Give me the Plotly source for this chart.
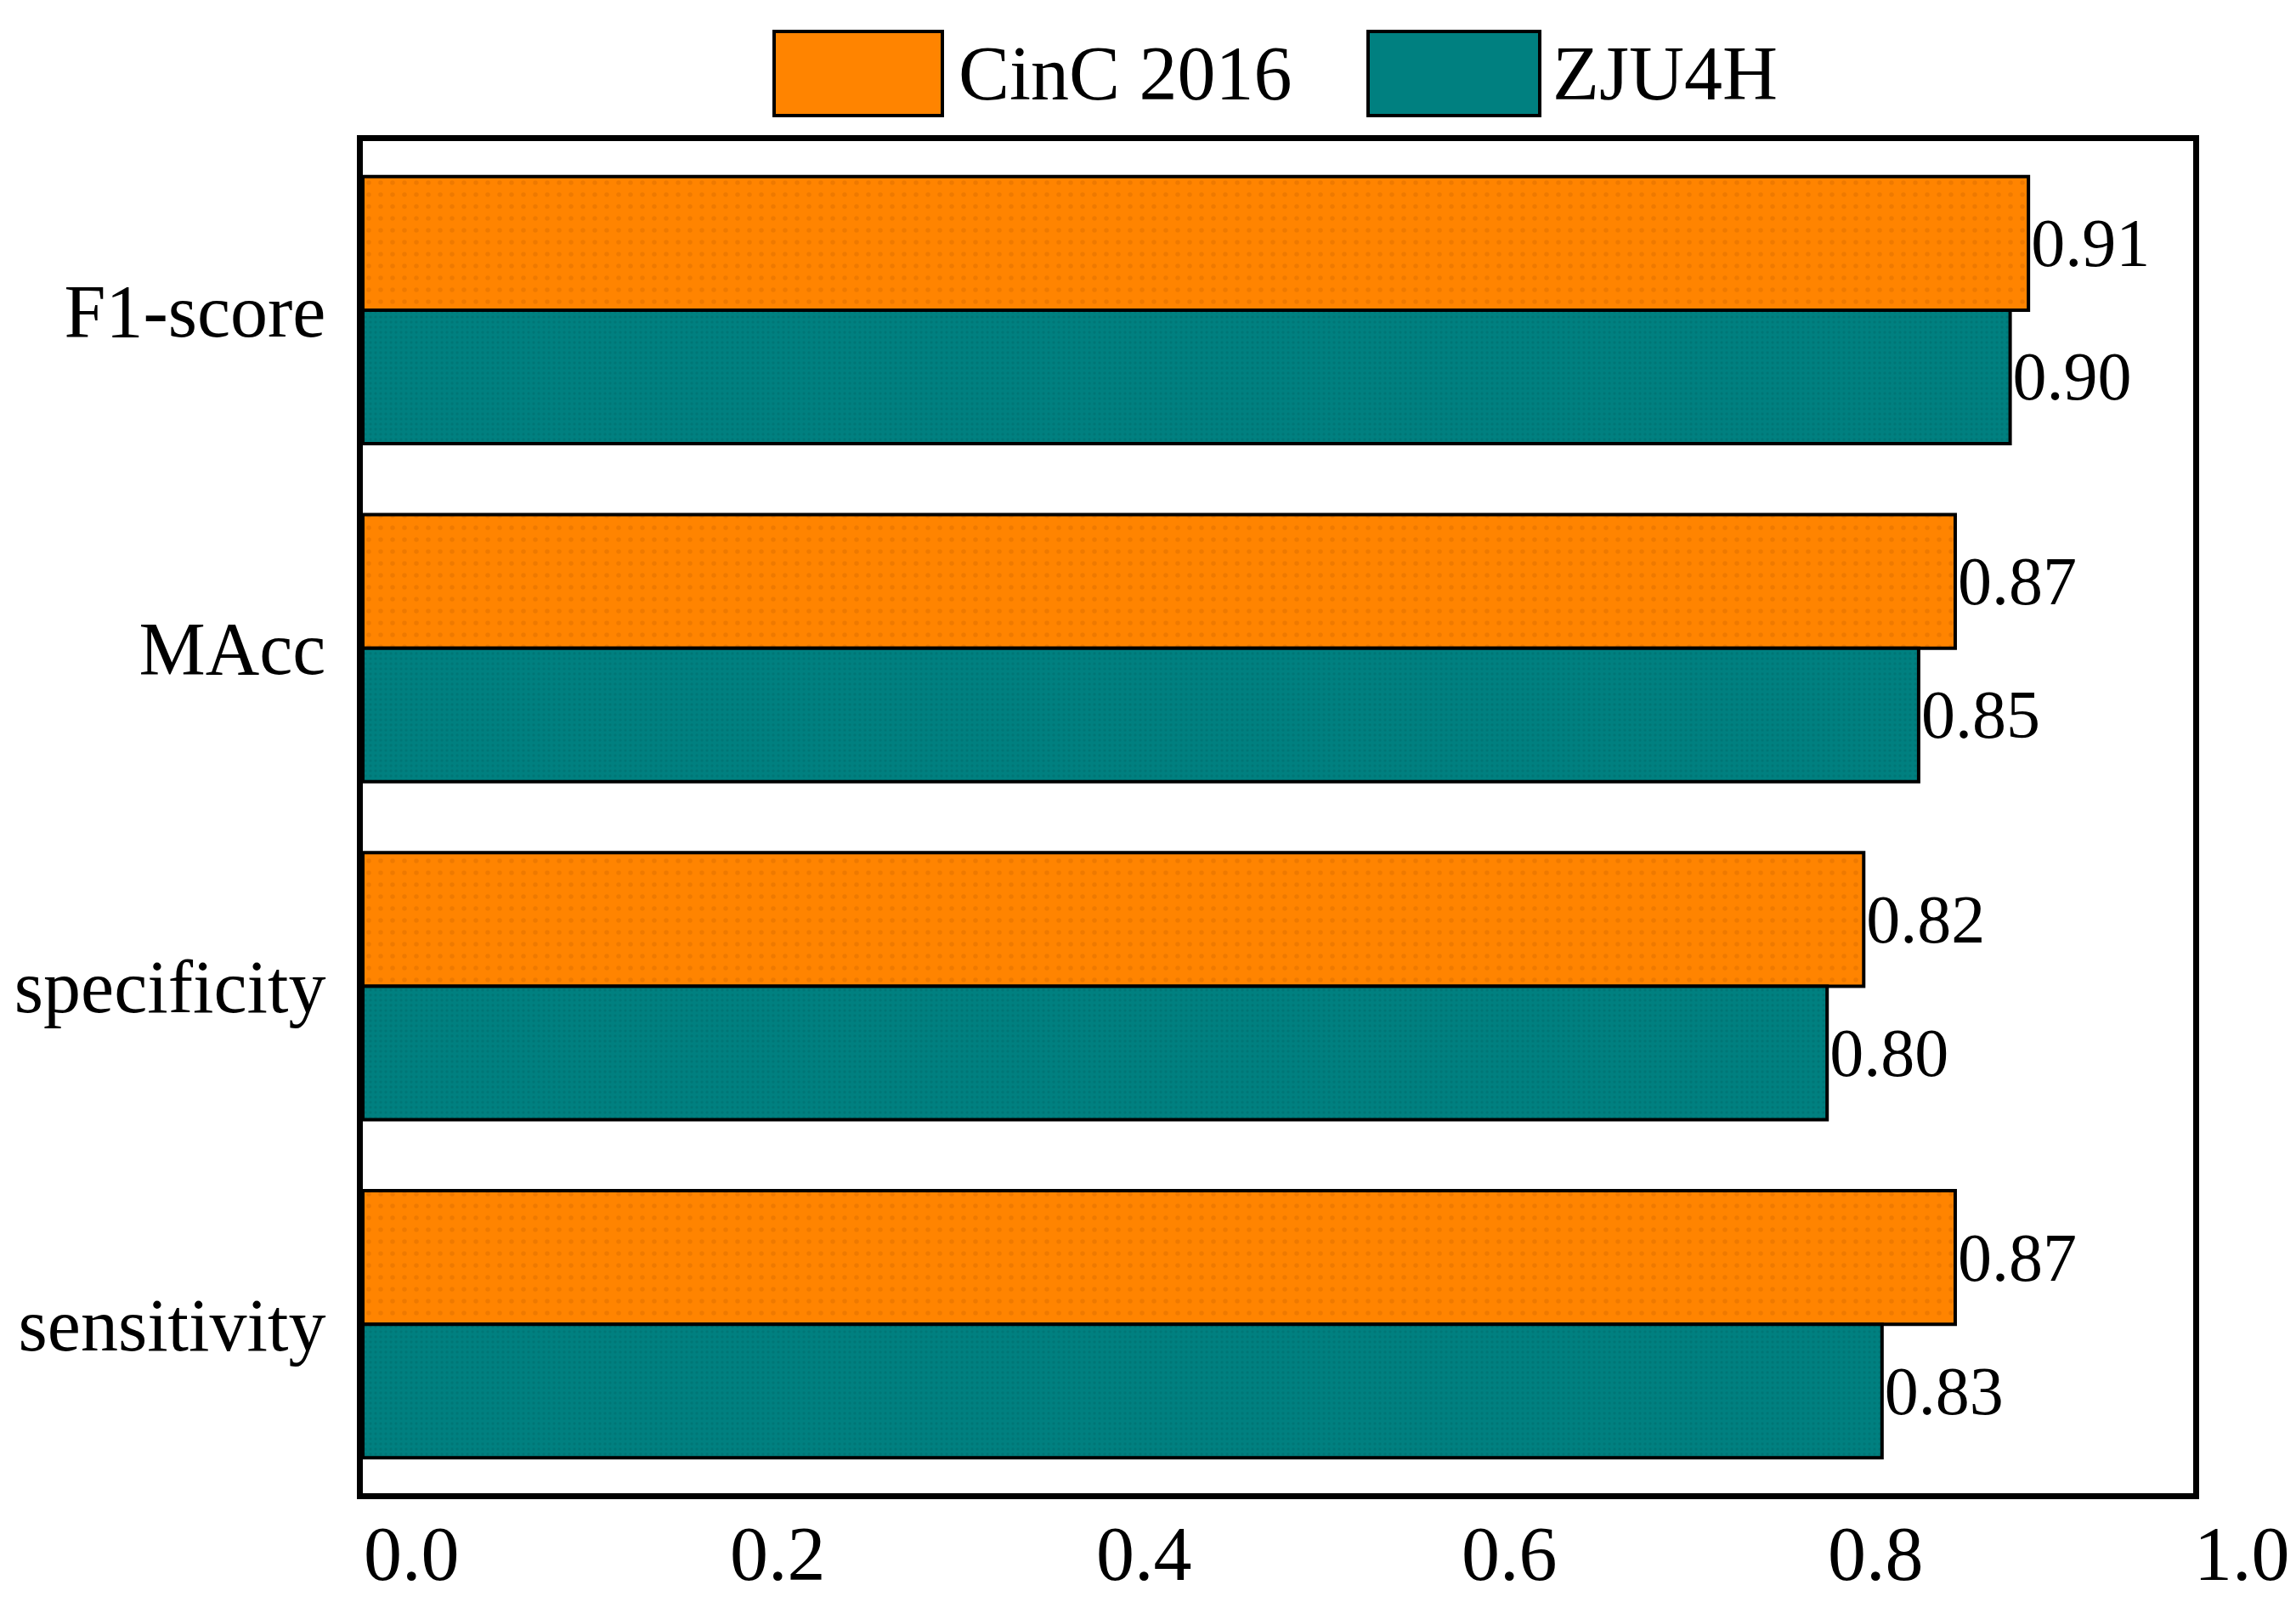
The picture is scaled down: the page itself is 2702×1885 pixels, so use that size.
import plotly.graph_objects as go

# ---- data ----
categories = ["F1-score", "MAcc", "specificity", "sensitivity"]
cinc_values = [0.91, 0.87, 0.82, 0.87]
zju_values = [0.90, 0.85, 0.80, 0.83]
series_names = ["CinC 2016", "ZJU4H"]
x_tick_values = [0.0, 0.2, 0.4, 0.6, 0.8, 1.0]
x_tick_labels = ["0.0", "0.2", "0.4", "0.6", "0.8", "1.0"]

# ---- style ----
W, H = 2702, 1885
L, R, T, B = 419, 129, 158, 136
FONT = "Liberation Serif"
ORANGE = "#FF8400"
TEAL = "#008080"

fig = go.Figure()
fig.add_trace(go.Bar(
    y=categories, x=cinc_values, orientation="h", name=series_names[0],
    marker=dict(color=ORANGE, line=dict(color="black", width=4),
                pattern=dict(shape=".", fgcolor="#DD6E00", bgcolor=ORANGE,
                             size=14, solidity=0.12)),
    texttemplate="%{x:.2f}", textposition="outside", constraintext="none",
    textfont=dict(family=FONT, size=80, color="black"), cliponaxis=False,
    showlegend=False,
))
fig.add_trace(go.Bar(
    y=categories, x=zju_values, orientation="h", name=series_names[1],
    marker=dict(color=TEAL, line=dict(color="black", width=4),
                pattern=dict(shape=".", fgcolor="#006C6C", bgcolor=TEAL,
                             size=6, solidity=0.25)),
    texttemplate="%{x:.2f}", textposition="outside", constraintext="none",
    textfont=dict(family=FONT, size=80, color="black"), cliponaxis=False,
    showlegend=False,
))


def pxx(px):
    return (px - L) / (W - L - R)


def pxy(py):
    return (H - B - py) / (H - T - B)


# custom legend (large swatches like the reference)
legend_items = [
    (series_names[0], ORANGE, 903, 1101, 1118),
    (series_names[1], TEAL, 1602, 1804, 1817),
]
shapes = []
annotations = []
for name, col, x0, x1, tx in legend_items:
    shapes.append(dict(type="rect", xref="paper", yref="paper",
                       x0=pxx(x0), x1=pxx(x1), y0=pxy(128), y1=pxy(29),
                       fillcolor=col, line=dict(color="black", width=4)))
    annotations.append(dict(xref="paper", yref="paper", x=pxx(tx), y=pxy(78),
                            xanchor="left", yanchor="middle", showarrow=False,
                            text=name, font=dict(family=FONT, size=90, color="black")))

# x tick labels, left-aligned at each tick (as in the reference)
for v, lab in zip(x_tick_values, x_tick_labels):
    annotations.append(dict(xref="x", yref="paper", x=v, y=0,
                            xanchor="left", yanchor="middle", yshift=-71,
                            showarrow=False, text=lab, borderpad=0,
                            font=dict(family=FONT, size=90, color="black")))

fig.update_layout(
    width=W, height=H,
    margin=dict(l=L, r=R, t=T, b=B, autoexpand=False),
    paper_bgcolor="white", plot_bgcolor="white",
    barmode="group", bargap=0.21, bargroupgap=0,
    font=dict(family=FONT, size=90, color="black"),
    shapes=shapes, annotations=annotations,
    xaxis=dict(range=[0, 1.0], tickmode="array", tickvals=x_tick_values,
               showticklabels=False, showgrid=False, zeroline=False,
               showline=True, linecolor="black", linewidth=7, mirror=True,
               ticks="", automargin=False),
    yaxis=dict(categoryorder="array", categoryarray=categories,
               autorange="reversed", showgrid=False, zeroline=False,
               showline=True, linecolor="black", linewidth=7, mirror=True,
               ticks="", ticklabelstandoff=19, automargin=False,
               tickfont=dict(family=FONT, size=88, color="black")),
)

fig.write_html("out.html")
